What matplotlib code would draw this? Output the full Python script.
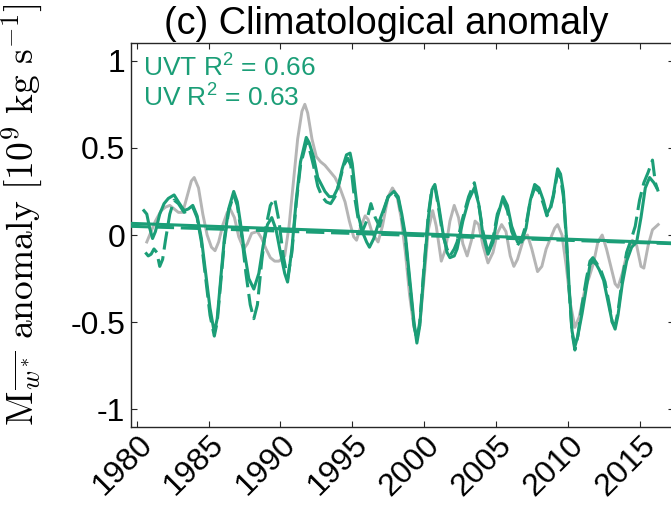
import numpy as np
import matplotlib
matplotlib.use('Agg')
import matplotlib.pyplot as plt
from matplotlib import transforms

# observed (gray) anomaly
obs_year = [1980.7, 1981.0, 1981.3, 1981.7, 1982.0, 1982.3, 1982.6, 1982.9, 1983.2, 1983.5,
            1983.8, 1984.0, 1984.3, 1984.6, 1984.9, 1985.2, 1985.45, 1985.7, 1986.0, 1986.3,
            1986.5, 1986.8, 1987.1, 1987.45, 1987.7, 1988.0, 1988.4, 1988.7, 1989.0, 1989.3,
            1989.6, 1989.9, 1990.3, 1990.6, 1990.9, 1991.2, 1991.5, 1991.7, 1991.9, 1992.2,
            1992.5, 1992.8, 1993.1, 1993.4, 1993.8, 1994.1, 1994.5, 1994.8, 1995.1, 1995.3,
            1995.6, 1995.9, 1996.1, 1996.4, 1996.8, 1997.1, 1997.5, 1997.8, 1998.1, 1998.4,
            1998.7, 1999.0, 1999.3, 1999.5, 1999.7, 2000.0, 2000.3, 2000.6, 2000.85, 2001.2,
            2001.5, 2001.8, 2002.1, 2002.4, 2002.7, 2003.0, 2003.3, 2003.55, 2003.8, 2004.1,
            2004.45, 2004.8, 2005.1, 2005.4, 2005.7, 2006.0, 2006.25, 2006.5, 2006.9, 2007.2,
            2007.5, 2007.9, 2008.2, 2008.5, 2008.8, 2009.1, 2009.3, 2009.6, 2009.9, 2010.2,
            2010.5, 2010.8, 2011.2, 2011.5, 2011.8, 2012.1, 2012.4, 2012.7, 2013.0, 2013.3,
            2013.5, 2013.8, 2014.2, 2014.5, 2014.8, 2015.1, 2015.3, 2015.6, 2015.9, 2016.3]
obs_val = [-0.04, 0.02, 0.08, 0.14, 0.16, 0.17, 0.15, 0.13, 0.13, 0.22,
           0.31, 0.33, 0.27, 0.12, 0.00, -0.07, -0.09, -0.04, 0.06, 0.13,
           0.15, 0.10, -0.01, -0.08, -0.05, 0.01, 0.02, -0.02, -0.08, -0.13,
           -0.15, -0.15, -0.12, 0.05, 0.30, 0.55, 0.71, 0.75, 0.70, 0.55,
           0.45, 0.42, 0.40, 0.37, 0.33, 0.28, 0.19, 0.08, -0.01, -0.03,
           0.05, 0.11, 0.09, 0.01, -0.04, 0.05, 0.22, 0.27, 0.23, 0.10,
           -0.10, -0.35, -0.53, -0.58, -0.52, -0.25, 0.03, 0.14, 0.05, -0.15,
           -0.08, 0.08, 0.17, 0.10, -0.05, -0.12, -0.03, 0.08, 0.06, -0.06,
           -0.16, -0.10, 0.01, 0.06, 0.02, -0.12, -0.18, -0.14, -0.03, 0.00,
           -0.08, -0.21, -0.18, -0.08, -0.02, 0.04, 0.06, 0.00, -0.18, -0.40,
           -0.53, -0.47, -0.31, -0.24, -0.16, -0.04, 0.00, -0.08, -0.18, -0.28,
           -0.30, -0.22, -0.08, -0.03, -0.06, -0.18, -0.19, -0.06, 0.03, 0.06]

# UVT reconstruction (solid green)
uvt_year = [1980.5, 1980.7, 1980.9, 1981.1, 1981.3, 1981.6, 1981.9, 1982.2, 1982.6, 1982.9,
            1983.3, 1983.6, 1983.9, 1984.2, 1984.5, 1984.8, 1985.1, 1985.4, 1985.6, 1985.9,
            1986.1, 1986.4, 1986.75, 1987.0, 1987.2, 1987.5, 1987.8, 1988.15, 1988.5, 1988.8,
            1989.1, 1989.4, 1989.7, 1990.0, 1990.3, 1990.5, 1990.8, 1991.1, 1991.4, 1991.8,
            1992.0, 1992.3, 1992.6, 1993.1, 1993.4, 1993.7, 1994.0, 1994.3, 1994.6, 1994.85,
            1995.0, 1995.2, 1995.4, 1995.7, 1996.0, 1996.2, 1996.5, 1996.8, 1997.2, 1997.5,
            1997.9, 1998.2, 1998.45, 1998.7, 1999.0, 1999.3, 1999.5, 1999.7, 2000.0, 2000.3,
            2000.55, 2000.75, 2001.0, 2001.3, 2001.6, 2001.8, 2002.1, 2002.3, 2002.7, 2003.1,
            2003.5, 2003.8, 2004.1, 2004.45, 2004.8, 2005.1, 2005.5, 2005.8, 2006.1, 2006.5,
            2006.8, 2007.1, 2007.4, 2007.7, 2008.0, 2008.3, 2008.55, 2008.8, 2009.0, 2009.3,
            2009.5, 2009.7, 2009.9, 2010.1, 2010.3, 2010.5, 2010.7, 2011.0, 2011.3, 2011.55,
            2011.75, 2012.0, 2012.2, 2012.5, 2012.8, 2013.1, 2013.3, 2013.5, 2013.8, 2014.1,
            2014.45, 2014.8, 2015.1, 2015.4, 2015.7, 2016.0, 2016.2]
uvt_val = [0.14, 0.12, 0.04, -0.02, 0.02, 0.12, 0.18, 0.21, 0.23, 0.19,
           0.14, 0.15, 0.17, 0.11, -0.02, -0.22, -0.42, -0.56, -0.48, -0.20,
           -0.02, 0.15, 0.25, 0.19, 0.08, -0.10, -0.25, -0.31, -0.22, -0.06,
           0.06, 0.10, 0.03, -0.10, -0.22, -0.27, -0.08, 0.20, 0.42, 0.56,
           0.53, 0.45, 0.33, 0.25, 0.22, 0.22, 0.27, 0.38, 0.46, 0.47,
           0.41, 0.26, 0.12, 0.02, -0.04, -0.07, -0.02, 0.06, 0.15, 0.22,
           0.25, 0.22, 0.12, 0.00, -0.25, -0.50, -0.62, -0.52, -0.20, 0.10,
           0.26, 0.29, 0.18, 0.02, -0.10, -0.13, -0.12, -0.08, 0.08, 0.20,
           0.27, 0.18, 0.00, -0.11, -0.04, 0.10, 0.22, 0.17, 0.05, -0.04,
           -0.04, 0.04, 0.20, 0.29, 0.27, 0.20, 0.12, 0.16, 0.23, 0.38,
           0.35, 0.25, 0.00, -0.30, -0.55, -0.64, -0.58, -0.45, -0.30, -0.17,
           -0.15, -0.17, -0.20, -0.26, -0.38, -0.50, -0.54, -0.46, -0.28, -0.15,
           -0.07, -0.04, 0.10, 0.27, 0.33, 0.30, 0.27]

# UV reconstruction (dashed green)
uv_year = [1980.6, 1980.8, 1981.0, 1981.2, 1981.4, 1981.6, 1981.8, 1982.0, 1982.3, 1982.6,
           1982.9, 1983.3, 1983.6, 1983.9, 1984.2, 1984.5, 1984.8, 1985.1, 1985.4, 1985.6,
           1985.9, 1986.1, 1986.4, 1986.75, 1987.0, 1987.3, 1987.6, 1987.9, 1988.15, 1988.4,
           1988.7, 1989.0, 1989.3, 1989.6, 1989.9, 1990.2, 1990.5, 1990.8, 1991.1, 1991.4,
           1991.8, 1992.0, 1992.3, 1992.6, 1992.9, 1993.2, 1993.5, 1993.8, 1994.1, 1994.4,
           1994.7, 1994.9, 1995.1, 1995.4, 1995.7, 1996.0, 1996.3, 1996.6, 1996.9, 1997.2,
           1997.5, 1997.9, 1998.2, 1998.45, 1998.7, 1999.0, 1999.3, 1999.5, 1999.7, 2000.0,
           2000.3, 2000.55, 2000.75, 2001.0, 2001.3, 2001.6, 2001.8, 2002.1, 2002.3, 2002.7,
           2003.1, 2003.5, 2003.8, 2004.1, 2004.45, 2004.8, 2005.1, 2005.5, 2005.8, 2006.1,
           2006.5, 2006.8, 2007.1, 2007.4, 2007.7, 2008.0, 2008.3, 2008.55, 2008.8, 2009.0,
           2009.3, 2009.5, 2009.7, 2009.9, 2010.1, 2010.3, 2010.5, 2010.7, 2011.0, 2011.3,
           2011.55, 2011.75, 2012.0, 2012.3, 2012.6, 2012.9, 2013.1, 2013.3, 2013.5, 2013.8,
           2014.1, 2014.4, 2014.7, 2015.0, 2015.3, 2015.6, 2015.9, 2016.1, 2016.3]
uv_val = [-0.10, -0.12, -0.11, -0.08, -0.10, -0.18, -0.14, -0.03, 0.12, 0.20,
          0.18, 0.13, 0.14, 0.16, 0.10, -0.04, -0.25, -0.46, -0.58, -0.50,
          -0.22, -0.04, 0.14, 0.23, 0.17, 0.00, -0.22, -0.40, -0.48, -0.40,
          -0.15, 0.05, 0.17, 0.21, 0.08, -0.12, -0.25, -0.10, 0.18, 0.40,
          0.53, 0.50, 0.40, 0.28, 0.22, 0.19, 0.18, 0.22, 0.30, 0.40,
          0.44, 0.40, 0.25, 0.10, 0.02, 0.08, 0.18, 0.10, 0.05, 0.14,
          0.22, 0.24, 0.21, 0.10, -0.02, -0.28, -0.52, -0.60, -0.50, -0.18,
          0.12, 0.27, 0.28, 0.16, 0.00, -0.08, -0.12, -0.08, -0.04, 0.10,
          0.22, 0.30, 0.18, 0.02, -0.10, -0.02, 0.12, 0.20, 0.14, 0.02,
          -0.06, -0.02, 0.06, 0.20, 0.27, 0.25, 0.18, 0.11, 0.15, 0.22,
          0.36, 0.33, 0.22, -0.02, -0.32, -0.56, -0.66, -0.58, -0.40, -0.25,
          -0.15, -0.13, -0.16, -0.20, -0.27, -0.40, -0.50, -0.52, -0.44, -0.25,
          -0.10, -0.03, 0.05, 0.20, 0.30, 0.36, 0.43, 0.30, 0.25]

# linear trends (end points)
trend_year = [1979.58, 2017.4]
uvt_trend = [0.067, -0.046]
uv_trend = [0.05, -0.05]

r2_labels = ['UVT R$^2$ = 0.66', 'UV R$^2$ = 0.63']
xticks = [1980, 1985, 1990, 1995, 2000, 2005, 2010, 2015]
yticks = [-1, -0.5, 0, 0.5, 1]
ytick_labels = ['-1', '-0.5', '0', '0.5', '1']

green = '#1b9e77'
gray = '#b5b5b5'

plt.rcParams['font.family'] = ['Liberation Sans', 'DejaVu Sans']
plt.rcParams['mathtext.fontset'] = 'custom'
plt.rcParams['mathtext.rm'] = 'Liberation Sans'
plt.rcParams['mathtext.it'] = 'Liberation Sans:italic'
plt.rcParams['axes.unicode_minus'] = False

fig = plt.figure(figsize=(6.71, 5.2), dpi=100)
ax = fig.add_axes([0.1948, 0.1794, 0.8097, 0.7373])

dash = (0, (6, 2.2))
ax.plot(obs_year, obs_val, color=gray, lw=2.1, zorder=1)
ax.plot(uvt_year, uvt_val, color=green, lw=2.2, zorder=3)
ax.plot(uv_year, uv_val, color=green, lw=2.2, ls=dash, zorder=2)
ax.plot(trend_year, uvt_trend, color=green, lw=2.2, zorder=4)
ax.plot(trend_year, uv_trend, color=green, lw=2.2, ls=dash, zorder=4)

ax.set_xlim(1979.58, 2017.4)
ax.set_ylim(-1.1, 1.1)
ax.set_xticks(xticks)
ax.set_xticklabels([str(x) for x in xticks], rotation=45, ha='right', va='center',
                   rotation_mode='anchor')
ax.set_yticks(yticks)
ax.set_yticklabels(ytick_labels)
ax.tick_params(direction='in', length=4.3, width=0.8, top=True, right=True,
               colors='0.15', labelcolor='black')
ax.tick_params(axis='y', labelsize=23, pad=4)
ax.tick_params(axis='x', labelsize=23, pad=10)
offset = transforms.ScaledTranslation(11 / 100, 0, fig.dpi_scale_trans)
for lab in ax.get_xticklabels():
    lab.set_transform(lab.get_transform() + offset)
for s in ax.spines.values():
    s.set_linewidth(1.0)
    s.set_color('0.15')

ax.text(0.47, 1.024, '(c) Climatological anomaly', transform=ax.transAxes,
        ha='center', va='baseline', fontsize=27.3)

ax.text(0.0226, 0.913, r2_labels[0], transform=ax.transAxes, color=green,
        fontsize=19, va='baseline', ha='left')
ax.text(0.0226, 0.835, r2_labels[1], transform=ax.transAxes, color=green,
        fontsize=19, va='baseline', ha='left')

ax.set_ylabel(r'$\mathrm{M}_{\overline{w^*}}\ \mathrm{anomaly}\ [10^9\ \mathrm{kg\ s^{-1}}]$',
              fontsize=27, math_fontfamily='cm')
ax.yaxis.set_label_coords(-0.1577, 0.552)

fig.savefig('out.png', dpi=100)
